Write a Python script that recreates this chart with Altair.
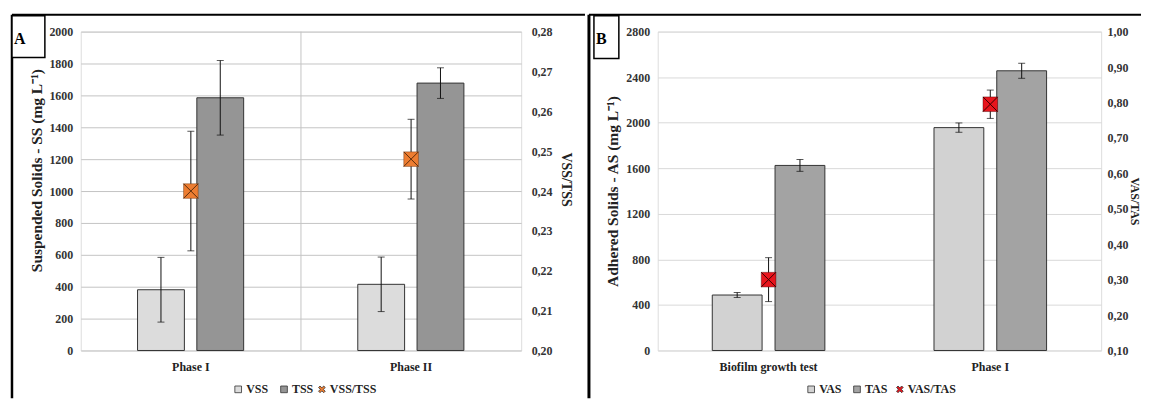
import altair as alt
import pandas as pd

# ---------------- data ----------------
phases_a = ["Phase I", "Phase II"]
vss = [381, 415]
vss_sd = [203, 171]
tss = [1585, 1677]
tss_sd = [234, 96]
ratio_a = [0.240, 0.248]
ratio_a_sd = [0.015, 0.010]

phases_b = ["Biofilm growth test", "Phase I"]
vas = [487, 1957]
vas_sd = [22, 41]
tas = [1625, 2456]
tas_sd = [52, 66]
ratio_b = [0.300, 0.795]
ratio_b_sd = [0.062, 0.040]

left_ticks_a = list(range(0, 2001, 200))
right_ticks_a = [0.20, 0.21, 0.22, 0.23, 0.24, 0.25, 0.26, 0.27, 0.28]
left_ticks_b = list(range(0, 2801, 400))
right_ticks_b = [0.10, 0.20, 0.30, 0.40, 0.50, 0.60, 0.70, 0.80, 0.90, 1.00]

FONT = "Liberation Serif"
XPATH = "M-1,-1L1,1M-1,1L1,-1"
XLEG = "M-1,-0.55L-0.55,-1L0,-0.45L0.55,-1L1,-0.55L0.45,0L1,0.55L0.55,1L0,0.45L-0.55,1L-1,0.55L-0.45,0Z"
H = 320
ONE = pd.DataFrame({"k": [0]})


def leg(x, symbol):
    return alt.Legend(title=None, orient="none", direction="horizontal",
                      legendX=x, legendY=H + 33,
                      symbolType=symbol, symbolSize=45,
                      symbolStrokeColor="#333", symbolStrokeWidth=0.8,
                      labelFont=FONT, labelFontWeight="bold",
                      labelFontSize=12, labelColor="#222",
                      labelOffset=2, columnPadding=9)


def panel(cats, names, vals, sds, rname, rvals, rsds, colors, rcolor, xcolor,
          ymax, yticks, rticks, ytitle, rtitle, width, offsets, bar_w, letter,
          frame, box, ltitle_pos, rtitle_pos, rtitle_size, rlab_pad,
          legend_x, legend2_x, grid_color, divider):
    rows = []
    for si, n in enumerate(names):
        for ci, c in enumerate(cats):
            v = vals[si][ci]
            s = sds[si][ci]
            rows.append({"cat": c, "series": n, "value": v, "lo": v - s, "hi": v + s})
    bdf = pd.DataFrame(rows)
    rdf = pd.DataFrame({"cat": cats, "series": [rname] * len(cats), "value": rvals,
                        "lo": [v - s for v, s in zip(rvals, rsds)],
                        "hi": [v + s for v, s in zip(rvals, rsds)]})

    xscale = alt.Scale(domain=cats, paddingInner=0, paddingOuter=0)
    xaxis = alt.Axis(title=None, labelAngle=0, ticks=False, domain=False,
                     labelPadding=11, labelFont=FONT, labelFontWeight="bold",
                     labelFontSize=12, labelColor="#222", grid=False,
                     labelAlign="center")
    x = alt.X("cat:N", sort=cats, scale=xscale, axis=xaxis)

    lscale = alt.Scale(domain=[0, ymax], nice=False, zero=True)
    laxis = alt.Axis(values=yticks, title=ytitle, orient="left", grid=True, format="d",
                     gridColor=grid_color, gridWidth=1, ticks=False, domain=False,
                     labelPadding=8, labelFont=FONT, labelFontWeight="bold",
                     labelFontSize=12, labelColor="#333",
                     titleFont=FONT, titleFontWeight="bold", titleFontSize=15.5,
                     titleColor="#222", titleX=ltitle_pos[0], titleY=ltitle_pos[1],
                     titleAngle=270, titleBaseline="middle", titleAlign="center")
    rscale = alt.Scale(domain=[rticks[0], rticks[-1]], nice=False, zero=False)
    raxis = alt.Axis(values=rticks, title=rtitle, orient="right", grid=False,
                     ticks=False, domain=False, format=".2f",
                     labelExpr="replace(datum.label, '.', ',')",
                     labelPadding=rlab_pad, labelFont=FONT, labelFontWeight="bold",
                     labelFontSize=12, labelColor="#333",
                     titleFont=FONT, titleFontWeight="bold", titleFontSize=rtitle_size,
                     titleColor="#222", titleX=rtitle_pos[0], titleY=rtitle_pos[1],
                     titleAngle=90, titleBaseline="middle", titleAlign="center")

    def yl(f):
        return alt.Y(f, scale=lscale, axis=laxis)

    def yr(f):
        return alt.Y(f, scale=rscale, axis=raxis)

    fill = alt.Fill("series:N", scale=alt.Scale(domain=names, range=colors),
                    legend=leg(legend_x, "square"))
    rcol = alt.Color("series:N", scale=alt.Scale(domain=[rname], range=[rcolor]),
                     legend=leg(legend2_x, XLEG))

    left_layers = []
    for n, off in zip(names, offsets):
        base = alt.Chart(bdf).transform_filter(alt.datum.series == n)
        left_layers.append(base.mark_bar(width=bar_w, xOffset=off, stroke="#333", strokeWidth=1)
                           .encode(x=x, y=yl("value:Q"), fill=fill))
    for n, off in zip(names, offsets):
        base = alt.Chart(bdf).transform_filter(alt.datum.series == n)
        left_layers.append(base.mark_rule(xOffset=off, color="#111", strokeWidth=1)
                           .encode(x=x, y=yl("lo:Q"), y2="hi:Q"))
        left_layers.append(base.mark_tick(xOffset=off, color="#111", thickness=1, size=7)
                           .encode(x=x, y=yl("lo:Q")))
        left_layers.append(base.mark_tick(xOffset=off, color="#111", thickness=1, size=7)
                           .encode(x=x, y=yl("hi:Q")))
    left = alt.layer(*left_layers)

    base_r = alt.Chart(rdf)
    rerr = base_r.mark_rule(color="#111", strokeWidth=1).encode(x=x, y=yr("lo:Q"), y2="hi:Q")
    rcap_lo = base_r.mark_tick(color="#111", thickness=1, size=7).encode(x=x, y=yr("lo:Q"))
    rcap_hi = base_r.mark_tick(color="#111", thickness=1, size=7).encode(x=x, y=yr("hi:Q"))
    marker = base_r.mark_point(shape="square", filled=True, size=215, opacity=1,
                               stroke=xcolor, strokeWidth=0.4).encode(x=x, y=yr("value:Q"), color=rcol)
    xover = base_r.mark_point(shape=XPATH, filled=False, size=215, opacity=1,
                              stroke=xcolor, strokeWidth=1).encode(x=x, y=yr("value:Q"))
    right = alt.layer(rerr, rcap_lo, rcap_hi, marker, xover)

    layers = []
    if divider:
        layers.append(alt.Chart(pd.DataFrame({"cat": cats[1:]})).mark_rule(
            color=grid_color, strokeWidth=1).encode(
            x=alt.X("cat:N", bandPosition=0, sort=cats, scale=xscale, axis=xaxis),
            y=alt.value(0), y2=alt.value(H)))
    layers += [left, right]

    # frame and panel letter
    fx0, fx1, fy0, fy1, fw = frame
    layers.append(alt.Chart(ONE).mark_rule(color="#000", strokeWidth=2).encode(
        x=alt.value(fx0), x2=alt.value(fx1), y=alt.value(fy0)))
    layers.append(alt.Chart(ONE).mark_rule(color="#000", strokeWidth=fw).encode(
        x=alt.value(fx0), y=alt.value(fy0), y2=alt.value(fy1)))
    bx0, bx1, by0, by1 = box
    layers.append(alt.Chart(ONE).mark_rect(fill="white", stroke="#000", strokeWidth=1.5).encode(
        x=alt.value(bx0), x2=alt.value(bx1), y=alt.value(by0), y2=alt.value(by1)))
    layers.append(alt.Chart(ONE).mark_text(font=FONT, fontWeight="bold", fontSize=16,
                                           align="left", baseline="alphabetic", color="#000").encode(
        x=alt.value(bx0 + 2), y=alt.value(by0 + 28), text=alt.value(letter)))

    return alt.layer(*layers).resolve_scale(y="independent").properties(width=width, height=H)


panel_a = panel(phases_a, ["VSS", "TSS"], [vss, tss], [vss_sd, tss_sd],
                "VSS/TSS", ratio_a, ratio_a_sd,
                ["#dcdcdc", "#959595"], "#ED7D31", "#5a2c0c",
                2000, left_ticks_a, right_ticks_a,
                "Suspended Solids - SS (mg L⁻¹)", "VSS/TSS", 442, [-30, 29.5], 47, "A",
                (-69, 506, -17, 368, 2.5), (-69, -36, -16, 26),
                (-44, 139), (44, 148), 14, 10, 152, 236, "#c4c4c4", True)

panel_b = panel(phases_b, ["VAS", "TAS"], [vas, tas], [vas_sd, tas_sd],
                "VAS/TAS", ratio_b, ratio_b_sd,
                ["#d2d2d2", "#a3a3a3"], "#E8141C", "#3a0000",
                2800, left_ticks_b, right_ticks_b,
                "Adhered Solids - AS (mg L⁻¹)", "VAS/TAS", 445, [-31.5, 31.5], 50, "B",
                (-69, 485, -17, 368, 3), (-64, -39, -16, 27),
                (-45, 160), (33, 170), 12, 6, 148, 237, "#d9d9d9", False)

chart = alt.hconcat(panel_a, panel_b, spacing=0).resolve_scale(
    color="independent", fill="independent"
).resolve_legend(
    color="independent", fill="independent"
).properties(
    padding={"left": 2, "top": 4, "right": 0, "bottom": 0}
).configure_view(stroke="#555", strokeWidth=1.2).configure(background="white")

chart.save("out.html", embed_options={"renderer": "svg", "actions": False})
